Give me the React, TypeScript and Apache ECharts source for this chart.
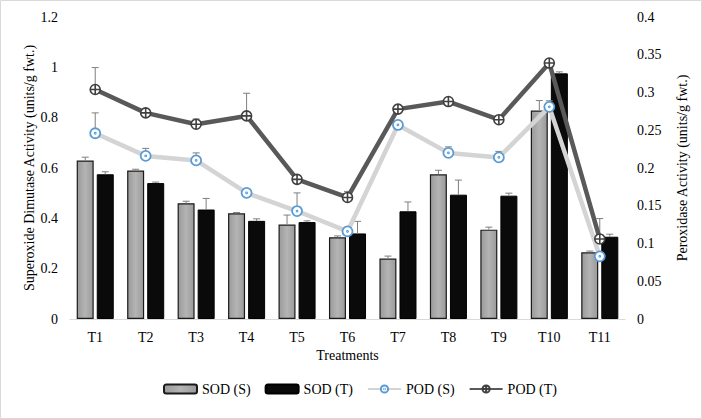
import React, { useEffect, useRef } from "react";
import * as echarts from "echarts";

const categories = ["T1", "T2", "T3", "T4", "T5", "T6", "T7", "T8", "T9", "T10", "T11"];
const sodS = [0.63, 0.59, 0.46, 0.42, 0.375, 0.325, 0.24, 0.575, 0.355, 0.828, 0.265];
const sodSErr = [0.013, 0.005, 0.008, 0.003, 0.038, 0.005, 0.01, 0.016, 0.01, 0.04, 0.005];
const sodT = [0.575, 0.54, 0.435, 0.39, 0.385, 0.34, 0.428, 0.494, 0.49, 0.976, 0.327];
const sodTErr = [0.01, 0.004, 0.044, 0.008, 0.005, 0.048, 0.037, 0.058, 0.01, 0.006, 0.01];
const podS = [0.246, 0.216, 0.21, 0.167, 0.143, 0.116, 0.257, 0.22, 0.214, 0.281, 0.083];
const podSErr = [0.027, 0.01, 0.01, 0, 0.024, 0, 0, 0.008, 0.008, 0.008, 0];
const podT = [0.304, 0.273, 0.258, 0.269, 0.185, 0.161, 0.278, 0.288, 0.264, 0.339, 0.106];
const podTErr = [0.029, 0, 0.007, 0.03, 0.005, 0.008, 0, 0, 0, 0, 0.027];
const leftTicks = { min: 0, max: 1.2, interval: 0.2 };
const rightTicks = { min: 0, max: 0.4, interval: 0.05 };

const FONT = "Liberation Serif";
const BAR_W = 17;
const OFF = 10;

function errSeries(name: string, vals: number[], errs: number[], yIdx: number, off: number, z: number) {
  return {
    name: name,
    type: "custom",
    yAxisIndex: yIdx,
    z: z,
    silent: true,
    encode: { x: 0, y: 1 },
    data: vals.map((v, i) => [i, v, errs[i]]),
    renderItem: (params: any, api: any) => {
      const i = api.value(0);
      const v = api.value(1);
      const e = api.value(2);
      if (!e) return { type: "group", children: [] };
      const p = api.coord([i, v]);
      const t = api.coord([i, v + e]);
      const cx = p[0] + off;
      return {
        type: "group",
        children: [
          { type: "line", shape: { x1: cx, y1: p[1], x2: cx, y2: t[1] }, style: { stroke: "#7f7f7f", lineWidth: 1 } },
          { type: "line", shape: { x1: cx - 3.5, y1: t[1], x2: cx + 3.5, y2: t[1] }, style: { stroke: "#7f7f7f", lineWidth: 1 } },
        ],
      };
    },
  };
}

const circleCross = "path://M0,10 A10,10 0 1,1 20,10 A10,10 0 1,1 0,10 Z M10,0 L10,20 M0,10 L20,10";
const circleDot = "path://M0,10 A10,10 0 1,1 20,10 A10,10 0 1,1 0,10 Z M9,10 A1,1 0 1,1 11,10 A1,1 0 1,1 9,10 Z";

const txt = { fontFamily: FONT, fontSize: 14, color: "#000" };

export default function App() {
  const ref = useRef<HTMLDivElement>(null);
  useEffect(() => {
    if (!ref.current) return;
    const chart = echarts.init(ref.current, null, { renderer: "svg" });
    const option: any = {
      animation: false,
      backgroundColor: "#ffffff",
      textStyle: { fontFamily: FONT },
      grid: { left: 70, right: 77, top: 17, bottom: 100 },
      legend: {
        bottom: 18,
        left: 158,
        itemWidth: 33,
        itemHeight: 9,
        itemGap: 14,
        textStyle: { ...txt },
        data: ["SOD (S)", "SOD (T)", "POD (S)", "POD (T)"],
      },
      graphic: [
        {
          type: "rect",
          shape: { x: 0.5, y: 0.5, width: 701, height: 418 },
          style: { fill: "none", stroke: "#d9d9d9", lineWidth: 1 },
          silent: true,
        },
      ],
      xAxis: {
        type: "category",
        data: categories,
        name: "Treatments",
        nameLocation: "middle",
        nameGap: 29,
        nameMoveOverlap: false,
        nameTextStyle: { ...txt },
        axisLine: { lineStyle: { color: "#d9d9d9", width: 1 } },
        axisTick: { show: false },
        axisLabel: { ...txt, margin: 11 },
      },
      yAxis: [
        {
          type: "value",
          min: leftTicks.min,
          max: leftTicks.max,
          interval: leftTicks.interval,
          name: "Superoxide Dimutase Activity (units/g fwt.)",
          nameLocation: "middle",
          nameGap: 34,
          nameMoveOverlap: false,
          nameTextStyle: { ...txt },
          axisLine: { show: false },
          axisTick: { show: false },
          splitLine: { show: false },
          axisLabel: { ...txt, margin: 12 },
        },
        {
          type: "value",
          min: rightTicks.min,
          max: rightTicks.max,
          interval: rightTicks.interval,
          name: "Peroxidase Activity (units/g fwt.)",
          nameLocation: "middle",
          nameGap: 50,
          nameMoveOverlap: false,
          nameTextStyle: { ...txt },
          axisLine: { show: false },
          axisTick: { show: false },
          splitLine: { show: false },
          axisLabel: { ...txt, margin: 12 },
        },
      ],
      series: [
        {
          name: "SOD (S)",
          type: "bar",
          yAxisIndex: 0,
          barWidth: BAR_W,
          barGap: "18%",
          z: 2,
          itemStyle: {
            color: new echarts.graphic.LinearGradient(0, 0, 1, 0, [
              { offset: 0, color: "#9a9a9a" },
              { offset: 0.5, color: "#b4b4b4" },
              { offset: 1, color: "#9a9a9a" },
            ]),
            borderColor: "#1a1a1a",
            borderWidth: 1.2,
          },
          data: sodS,
        },
        {
          name: "SOD (T)",
          type: "bar",
          yAxisIndex: 0,
          barWidth: BAR_W,
          z: 2,
          itemStyle: {
            color: "#0a0a0a",
            borderColor: "#000",
            borderWidth: 1,
          },
          data: sodT,
        },
        errSeries("sodSErr", sodS, sodSErr, 0, -OFF, 3),
        errSeries("sodTErr", sodT, sodTErr, 0, OFF, 3),
        errSeries("podSErr", podS, podSErr, 1, 0, 4),
        errSeries("podTErr", podT, podTErr, 1, 0, 4),
        {
          name: "POD (S)",
          type: "line",
          yAxisIndex: 1,
          z: 5,
          symbol: circleDot,
          symbolSize: 10,
          showAllSymbol: true,
          lineStyle: { color: "#d4d4d4", width: 4.5 },
          itemStyle: { color: "#ffffff", borderColor: "#5b9bd5", borderWidth: 1.8 },
          data: podS,
        },
        {
          name: "POD (T)",
          type: "line",
          yAxisIndex: 1,
          z: 6,
          symbol: circleCross,
          symbolSize: 10,
          showAllSymbol: true,
          lineStyle: { color: "#595959", width: 4.5 },
          itemStyle: { color: "#ffffff", borderColor: "#404040", borderWidth: 1.6 },
          data: podT,
        },
      ],
    };
    chart.setOption(option);
    return () => chart.dispose();
  }, []);
  return (
    <div
      ref={ref}
      style={{ position: "absolute", left: 0, top: 0, width: 702, height: 419 }}
    />
  );
}
